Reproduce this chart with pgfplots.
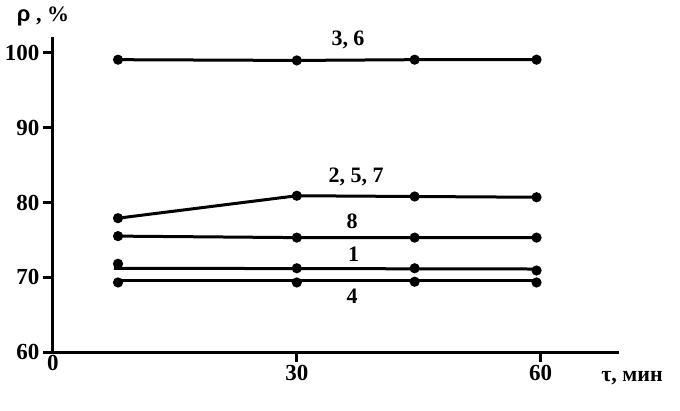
\documentclass[border=0pt]{standalone}
\usepackage{pgfplots}
\pgfplotsset{compat=1.18}
\usepackage{fontspec}
\setmainfont{Liberation Serif}
\newfontfamily\sansf{Liberation Sans}
\begin{document}
\begin{tikzpicture}[x=1pt,y=1pt]
\useasboundingbox (-53,-58) rectangle (627,352);
\begin{axis}[at={(0,0)}, anchor=south west, scale only axis,
  width=564pt, height=314pt,
  xmin=0, xmax=69.4, ymin=60, ymax=102,
  axis lines*=left, axis line style={line width=3pt, line cap=rect},
  xtick={30,60}, extra x ticks={0}, extra x tick style={major tick length=0pt},
  ytick={60,70,80,90,100},
  tick align=outside, major tick length=10pt,
  tick style={line width=3pt, black},
  /pgf/number format/assume math mode=true,
  ticklabel style={font=\fontsize{23}{23}\selectfont\bfseries},
  clip=false,
  every axis plot/.append style={line width=3pt, black},
  mark size=3.5pt]
% series 3, 6
\addplot[mark=*] coordinates {(8,99.1) (30,99.0) (44.5,99.1) (59.5,99.1)};
% series 2, 5, 7
\addplot[mark=*] coordinates {(8,77.9) (30,80.9) (44.5,80.8) (59.5,80.7)};
% series 8
\addplot[mark=*] coordinates {(8,75.5) (30,75.3) (44.5,75.3) (59.5,75.3)};
% series 1
\addplot[no marks] coordinates {(7.5,71.2) (59.5,71.1)};
\addplot[only marks, mark=*] coordinates {(8,71.8) (30,71.2) (44.5,71.2) (59.5,70.9)};
% series 4
\addplot[no marks] coordinates {(7.5,69.6) (59.5,69.6)};
\addplot[only marks, mark=*] coordinates {(8,69.3) (30,69.3) (44.5,69.4) (59.5,69.3)};
\begin{scope}[font=\fontsize{22}{22}\selectfont\bfseries]
\node at (axis cs:36.3,101.7) {3, 6};
\node at (axis cs:37.3,83.4) {2, 5, 7};
\node at (axis cs:36.8,77.5) {8};
\node at (axis cs:37.0,73.1) {1};
\node at (axis cs:36.8,67.4) {4};
\end{scope}
\end{axis}
\node[font=\fontsize{22}{22}\selectfont\bfseries] at (-10,336) {{\sansf ρ} , \%};
\node[font=\fontsize{22}{22}\selectfont\bfseries] at (579,-26) {τ, мин};
\end{tikzpicture}
\end{document}
